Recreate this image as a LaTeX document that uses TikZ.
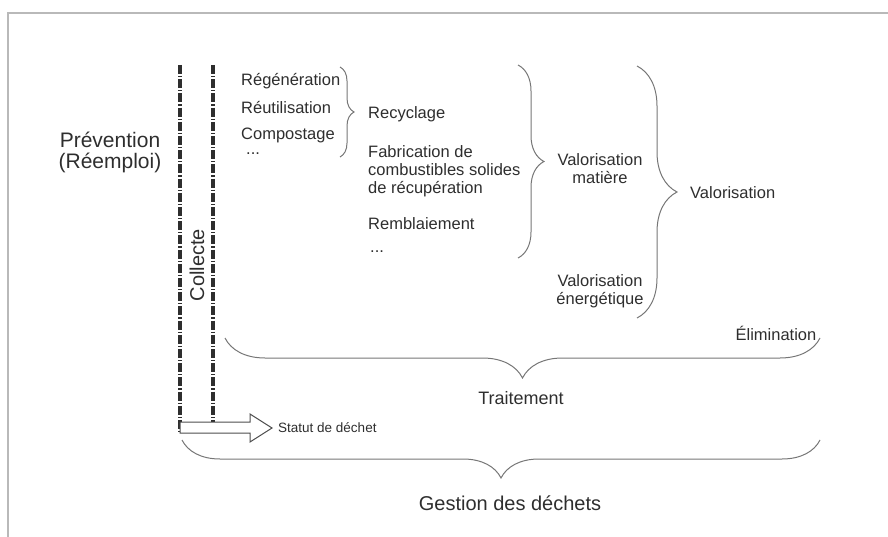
\documentclass[tikz,border=0pt]{standalone}
\usepackage{fontspec}
\setmainfont{Liberation Sans}
\usetikzlibrary{decorations.pathreplacing, positioning}
\definecolor{ink}{HTML}{2E2E2E}
\definecolor{bracegray}{HTML}{767676}
\tikzset{every node/.style={text=ink, inner sep=0pt},
	small text/.style={font=\fontsize{16.5}{18}\selectfont},
	big text/.style={font=\fontsize{21}{21}\selectfont, align=center},
	curly/.style={draw=bracegray, line width=1pt, decorate, decoration={brace, amplitude=#1}},
	limit line/.style={draw=ink, line width=3.2pt, dash pattern=on 9pt off 2pt on 1.2pt off 2pt}}

\begin{document}
\begin{tikzpicture}[x=1pt, y=-1pt]
	\useasboundingbox (0,0) rectangle (888,537);
	\draw[gray!55, line width=1.5pt] (888,13) -- (8,13) -- (8,537);
	% limites prevention / collecte
	\coordinate (prev top) at (180,65);
	\coordinate (prev bottom) at (180,433);
	\coordinate (coll top) at (213,65);
	\coordinate (coll bottom) at (213,433);
	\draw[limit line] (prev top) -- (prev bottom);
	\draw[limit line] (coll top) -- (coll bottom);
	\node[big text] at (110,152) (Prevention) {Prévention\\(Réemploi)};
	\node[font=\fontsize{20}{20}\selectfont, rotate=90] at (197,265) (Collecte) {Collecte};
	\draw[ink!85, line width=1pt, fill=white] (180,422) -- (250,422) -- (250,414) -- (272,428) -- (250,442) -- (250,433) -- (180,433) -- cycle;
	\coordinate (arrow tip) at (272,428);
	\node[font=\fontsize{13.5}{14}\selectfont, right=6pt of arrow tip] (Statut) {Statut de déchet};
	% operations
	\node[small text, anchor=west] at (241,81) (Regeneration) {Régénération};
	\node[small text, anchor=west] at (241,108) (Reutilisation) {Réutilisation};
	\node[small text, anchor=west] at (241,135) (Compostage) {Compostage};
	\node[small text, anchor=west] at (246,154) (Etc1) {...};
	\node[small text, anchor=west] at (368,114) (Recyclage) {Recyclage};
	\node[small text, anchor=west, align=left] at (368,171) (CSR) {Fabrication de\\combustibles solides\\de récupération};
	\node[small text, anchor=west] at (368,224) (Remblaiement) {Remblaiement};
	\node[small text, anchor=west] at (370,252) (Etc2) {...};
	\node[small text, align=center] at (600,169) (Val matiere) {Valorisation\\matière};
	\node[small text, align=center] at (600,291) (Val energie) {Valorisation\\énergétique};
	\node[small text, anchor=west] at (690,193) (Valorisation) {Valorisation};
	\node[small text] at (776,333) (Elimination) {Élimination};
	\node[font=\fontsize{18}{18}\selectfont] at (521,398) (Traitement) {Traitement};
	\node[font=\fontsize{20}{20}\selectfont] at (510,503) (Gestion) {Gestion des déchets};
	% accolades
	\coordinate (rec top) at (340,67);
	\coordinate (rec bottom) at (340,157);
	\coordinate (mat top) at (518,65);
	\coordinate (mat bottom) at (518,258);
	\coordinate (val top) at (637,66);
	\coordinate (val bottom) at (637,318);
	\coordinate (trt left) at (225,338);
	\coordinate (trt right) at (820,338);
	\coordinate (ges left) at (182,440);
	\coordinate (ges right) at (820,440);
	\draw[curly=14] (rec top) -- (rec bottom);
	\draw[curly=26] (mat top) -- (mat bottom);
	\draw[curly=40] (val top) -- (val bottom);
	\draw[curly=40] (trt right) -- (trt left);
	\draw[curly=38] (ges right) -- (ges left);
\end{tikzpicture}
\end{document}
